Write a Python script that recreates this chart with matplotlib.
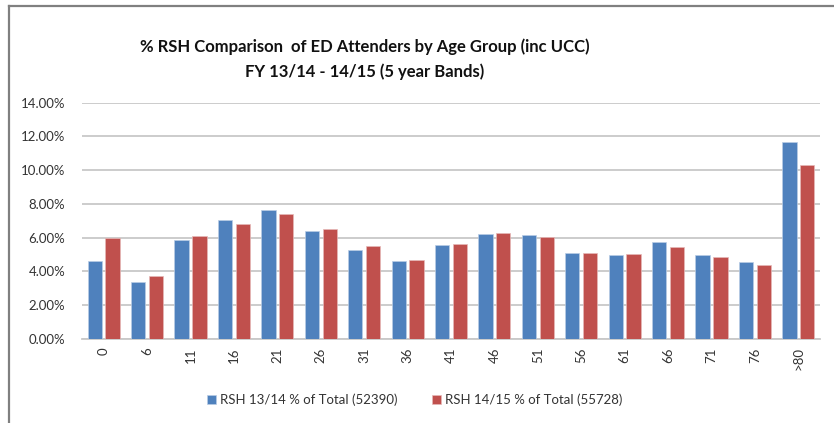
import matplotlib.pyplot as plt
import matplotlib.lines as mlines
import numpy as np
from matplotlib.ticker import FuncFormatter

plt.rcParams['font.family'] = ['Lato', 'DejaVu Sans']

# Tranches d'age (5 ans)
age_groups = ['0', '6', '11', '16', '21', '26', '31', '36', '41', '46',
              '51', '56', '61', '66', '71', '76', '>80']

rsh_1314 = [4.62, 3.40, 5.88, 7.05, 7.66, 6.40, 5.29, 4.62, 5.57, 6.22,
            6.16, 5.11, 4.96, 5.73, 4.96, 4.56, 11.69]
rsh_1415 = [5.98, 3.73, 6.12, 6.83, 7.39, 6.50, 5.51, 4.68, 5.65, 6.28,
            6.06, 5.11, 5.06, 5.45, 4.84, 4.40, 10.31]

label_1314 = 'RSH 13/14 % of Total (52390)'
label_1415 = 'RSH 14/15 % of Total (55728)'

fig = plt.figure(figsize=(8.34, 4.23), dpi=100)
ax = fig.add_axes([82 / 834, 1 - 339 / 423, (820 - 82) / 834, (339 - 102.7) / 423])

x = np.arange(len(age_groups))
w = 0.33
ax.bar(x - 0.205, rsh_1314, w, color='#4F81BD', edgecolor='#B9CDE5', linewidth=0.5,
       label=label_1314, zorder=3)
ax.bar(x + 0.205, rsh_1415, w, color='#C0504D', edgecolor='#E6B9B8', linewidth=0.5,
       label=label_1415, zorder=3)

ax.set_xlim(-0.5, len(age_groups) - 0.5)
ax.set_ylim(0, 14)
ax.set_yticks(np.arange(0, 14.1, 2))
ax.yaxis.set_major_formatter(FuncFormatter(lambda v, p: '%.2f%%' % v))
ax.set_xticks(x)
ax.set_xticklabels(age_groups, rotation=90)

ax.grid(axis='y', color='#C8C8C8', linewidth=1.3, zorder=0)
for s in ['top', 'right', 'left']:
    ax.spines[s].set_visible(False)
ax.spines['bottom'].set_color('#C8C8C8')
ax.spines['bottom'].set_linewidth(1.3)
ax.tick_params(axis='both', length=0, labelsize=9.5, colors='#333333')
ax.tick_params(axis='x', pad=6)
ax.tick_params(axis='y', pad=12)

fig.text(365 / 834, 1 - 59 / 423,
         '% RSH Comparison  of ED Attenders by Age Group (inc UCC)\nFY 13/14 - 14/15 (5 year Bands)',
         ha='center', va='center', fontsize=12, fontweight='bold', linespacing=1.65,
         color='#111111')

fig.legend(loc='center', bbox_to_anchor=(415 / 834, 1 - 400 / 423), ncol=2, frameon=False,
           fontsize=9.5, handlelength=0.7, handleheight=0.7, handletextpad=0.3,
           columnspacing=2.6, labelcolor='#333333')

# cadre gris du graphique
fig.add_artist(mlines.Line2D([8.5 / 834, 8.5 / 834], [0, 1 - 6 / 423], color='#808080',
                             linewidth=1.6, transform=fig.transFigure))
fig.add_artist(mlines.Line2D([8.5 / 834, 1], [1 - 6.5 / 423, 1 - 6.5 / 423], color='#808080',
                             linewidth=1.6, transform=fig.transFigure))

fig.savefig('out.png', dpi=100)
